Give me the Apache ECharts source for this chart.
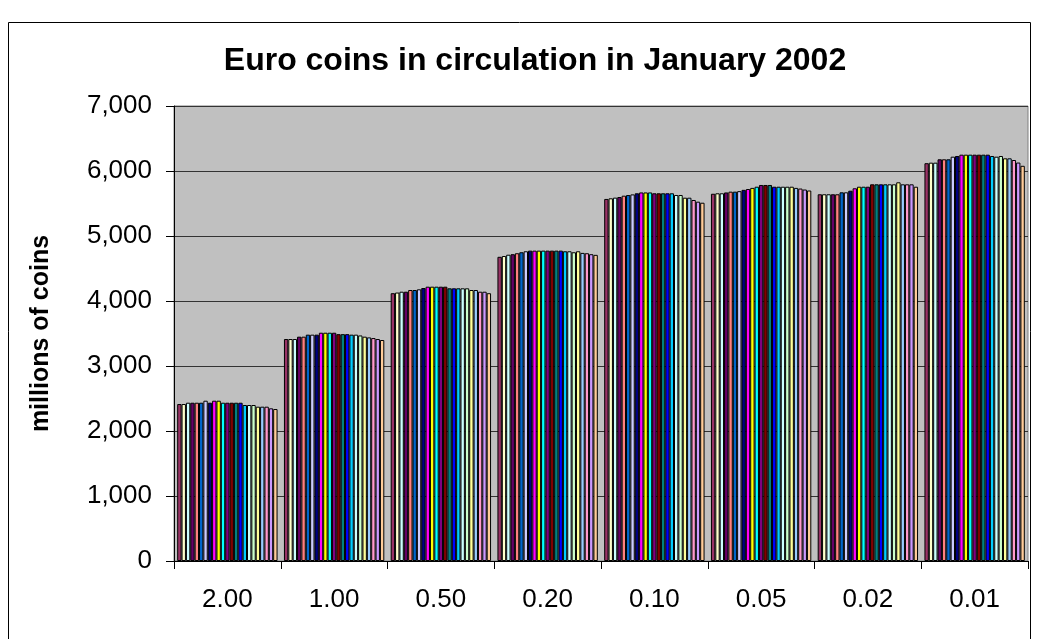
<!DOCTYPE html>
<html>
<head>
<meta charset="utf-8">
<title>Euro coins in circulation in January 2002</title>
<script src="https://cdn.jsdelivr.net/npm/echarts@6/dist/echarts.min.js"></script>
<style>
  html, body { margin: 0; padding: 0; background: #fff; }
  #chart { width: 1042px; height: 639px; }
</style>
</head>
<body>
<div id="chart"></div>
<script>
// coin denominations (euro)
const coins = ["2.00", "1.00", "0.50", "0.20", "0.10", "0.05", "0.02", "0.01"];

// millions of coins, one value per reporting day (23 bars per coin)
const coin200 = [2415, 2415, 2435, 2435, 2435, 2435, 2466, 2435, 2466, 2466, 2435, 2435, 2435, 2435, 2435, 2400, 2400, 2400, 2374, 2374, 2374, 2349, 2338];
const coin100 = [3415, 3415, 3415, 3451, 3451, 3482, 3482, 3482, 3512, 3512, 3512, 3512, 3490, 3490, 3490, 3482, 3482, 3470, 3451, 3440, 3430, 3415, 3400];
const coin050 = [4120, 4130, 4143, 4143, 4169, 4169, 4180, 4200, 4220, 4220, 4220, 4220, 4220, 4195, 4195, 4195, 4195, 4195, 4169, 4169, 4143, 4143, 4120];
const coin020 = [4680, 4692, 4712, 4720, 4735, 4750, 4765, 4775, 4775, 4775, 4775, 4775, 4775, 4775, 4775, 4765, 4765, 4750, 4765, 4740, 4735, 4720, 4710];
const coin010 = [5570, 5580, 5590, 5600, 5620, 5630, 5640, 5657, 5670, 5670, 5670, 5657, 5657, 5657, 5657, 5657, 5631, 5631, 5589, 5589, 5554, 5528, 5512];
const coin005 = [5650, 5657, 5657, 5670, 5682, 5682, 5690, 5710, 5723, 5740, 5758, 5785, 5785, 5785, 5758, 5758, 5758, 5758, 5758, 5740, 5730, 5715, 5700];
const coin002 = [5642, 5642, 5642, 5642, 5642, 5672, 5672, 5697, 5734, 5758, 5758, 5758, 5795, 5795, 5795, 5795, 5795, 5795, 5826, 5795, 5795, 5795, 5758];
const coin001 = [6120, 6128, 6128, 6180, 6180, 6180, 6220, 6231, 6251, 6251, 6251, 6251, 6251, 6251, 6251, 6231, 6220, 6231, 6195, 6195, 6169, 6130, 6080];

const yTicks = [0, 1000, 2000, 3000, 4000, 5000, 6000, 7000];

// old Excel chart palette, in series order
const palette = [
  "#993366", "#FFFFCC", "#CCFFFF", "#660066", "#FF8080", "#0066CC", "#CCCCFF", "#000080",
  "#FF00FF", "#FFFF00", "#00FFFF", "#800080", "#800000", "#008080", "#0000FF", "#00CCFF",
  "#CCFFFF", "#CCFFCC", "#FFFF99", "#99CCFF", "#FF99CC", "#CC99FF", "#FFCC99"
];

const byCoin = [coin200, coin100, coin050, coin020, coin010, coin005, coin002, coin001];
const nDays = coin200.length;

const series = [];
for (let d = 0; d < nDays; d++) {
  series.push({
    type: "bar",
    name: "day " + (d + 1),
    data: byCoin.map((arr) => arr[d]),
    barGap: "0%",
    barCategoryGap: "6%",
    itemStyle: { color: palette[d % palette.length], borderColor: "#000", borderWidth: 1 },
    emphasis: { disabled: true },
  });
}

const chart = echarts.init(document.getElementById("chart"));
const FONT = "Liberation Sans, Arial, sans-serif";

chart.setOption({
  animation: false,
  title: {
    text: "Euro coins in circulation in January 2002",
    left: 530,
    top: 40,
    textAlign: "center",
    textStyle: { fontFamily: FONT, fontSize: 32, fontWeight: "bold", color: "#000" },
  },
  graphic: [
    {
      type: "rect",
      shape: { x: 8.5, y: 22.5, width: 1022, height: 700 },
      style: { fill: null, stroke: "#000", lineWidth: 1 },
      silent: true,
    },
  ],
  grid: { left: 174, right: 14, top: 106, bottom: 78, show: true, backgroundColor: "#C0C0C0", borderColor: "#808080", borderWidth: 1 },
  xAxis: {
    type: "category",
    data: coins,
    axisLine: { lineStyle: { color: "#000", width: 1 } },
    axisTick: { show: true, alignWithLabel: false, length: 8, lineStyle: { color: "#000" } },
    axisLabel: { fontFamily: FONT, fontSize: 26, color: "#000", margin: 26 },
  },
  yAxis: {
    type: "value",
    min: 0,
    max: 7000,
    interval: 1000,
    name: "millions of coins",
    nameLocation: "middle",
    nameGap: 120,
    nameTextStyle: { fontFamily: FONT, fontSize: 25, fontWeight: "bold", color: "#000" },
    axisLine: { show: true, lineStyle: { color: "#000", width: 1 } },
    axisTick: { show: true, length: 8, lineStyle: { color: "#000" } },
    axisLabel: {
      fontFamily: FONT, fontSize: 26, color: "#000", margin: 22,
      formatter: (v) => (yTicks.includes(v) ? v.toLocaleString("en-US") : ""),
    },
    splitLine: { show: true, lineStyle: { color: "#333", width: 1 } },
  },
  series: series,
});
</script>
</body>
</html>
